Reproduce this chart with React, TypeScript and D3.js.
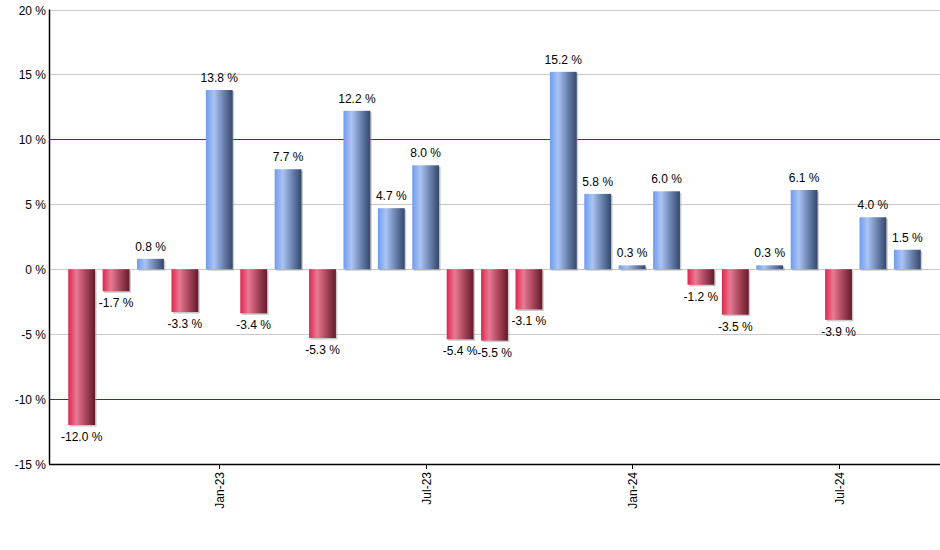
import React from "react";
import * as d3 from "d3";

const months = [
  "Sep-22","Oct-22","Nov-22","Dec-22","Jan-23","Feb-23","Mar-23","Apr-23","May-23","Jun-23",
  "Jul-23","Aug-23","Sep-23","Oct-23","Nov-23","Dec-23","Jan-24","Feb-24","Mar-24","Apr-24",
  "May-24","Jun-24","Jul-24","Aug-24","Sep-24",
];
const returns = [
  -12.0, -1.7, 0.8, -3.3, 13.8, -3.4, 7.7, -5.3, 12.2, 4.7,
  8.0, -5.4, -5.5, -3.1, 15.2, 5.8, 0.3, 6.0, -1.2, -3.5,
  0.3, 6.1, -3.9, 4.0, 1.5,
];
const yTicks = [20, 15, 10, 5, 0, -5, -10, -15];
const xTickLabels = ["Jan-23", "Jul-23", "Jan-24", "Jul-24"];

const W = 940, H = 550;
const left = 49, right = 940, top = 9.5, bottom = 464;
const font = "'Liberation Sans', Arial, sans-serif";

export default function App() {
  const x = d3.scaleBand<string>().domain(months).range([left, right]).paddingInner(0.22).paddingOuter(0.56);
  const y = d3.scaleLinear().domain([-15, 20]).range([bottom, top]);
  const bw = x.bandwidth();
  const fmt = (v: number) => `${v.toFixed(1)} %`;

  return (
    <svg width={W} height={H} style={{ position: "absolute", left: 0, top: 0 }}>
      <defs>
        <linearGradient id="gBlue" x1="0" x2="1" y1="0" y2="0">
          <stop offset="0" stopColor="#6e9bef" />
          <stop offset="0.3" stopColor="#aac4f4" />
          <stop offset="0.65" stopColor="#6c84b0" />
          <stop offset="1" stopColor="#34476c" />
        </linearGradient>
        <linearGradient id="gRed" x1="0" x2="1" y1="0" y2="0">
          <stop offset="0" stopColor="#df2550" />
          <stop offset="0.3" stopColor="#e87a92" />
          <stop offset="0.65" stopColor="#a8465c" />
          <stop offset="1" stopColor="#641a2a" />
        </linearGradient>
      </defs>
      {yTicks.map((t) => {
        const yy = Math.round(y(t)) + 0.5;
        const stroke = t === 10 || t === -10 ? "#0d5c0d" : "#c8c8c8";
        return (
          <g key={t}>
            {t !== -15 && <line x1={left} x2={right} y1={yy} y2={yy} stroke={stroke} strokeWidth={1} />}
            <text x={left - 3} y={yy} dy="0.35em" textAnchor="end" fontFamily={font} fontSize={12} fill="#000">
              {`${t} %`}
            </text>
          </g>
        );
      })}
      {returns.map((v, i) => {
        const bx = x(months[i])!;
        const y0 = y(0);
        const yv = y(v);
        const yTop = Math.min(y0, yv);
        const h = Math.abs(yv - y0);
        return (
          <g key={i}>
            <rect x={bx + 1.5} y={yTop + 1.5} width={bw} height={h} fill="#9a9a9a" opacity={0.5} />
            <rect x={bx} y={yTop} width={bw} height={h} fill={v >= 0 ? "url(#gBlue)" : "url(#gRed)"} />
            <text
              x={bx + bw / 2}
              y={v >= 0 ? yv - 8 : yv + 16}
              textAnchor="middle"
              fontFamily={font}
              fontSize={12}
              fill="#000"
            >
              {fmt(v)}
            </text>
          </g>
        );
      })}
      <line x1={left + 0.5} x2={left + 0.5} y1={top} y2={bottom} stroke="#000" strokeWidth={1.5} />
      <line x1={left} x2={right} y1={bottom + 0.5} y2={bottom + 0.5} stroke="#000" strokeWidth={1.5} />
      {xTickLabels.map((lab) => {
        const cx = Math.round(x(lab)! + bw / 2) + 0.5;
        return (
          <g key={lab}>
            <line x1={cx} x2={cx} y1={bottom} y2={bottom + 5} stroke="#000" strokeWidth={1} />
            <text
              transform={`translate(${cx + 4},${bottom + 8}) rotate(-90)`}
              textAnchor="end"
              fontFamily={font}
              fontSize={12}
              fill="#000"
            >
              {lab}
            </text>
          </g>
        );
      })}
    </svg>
  );
}
